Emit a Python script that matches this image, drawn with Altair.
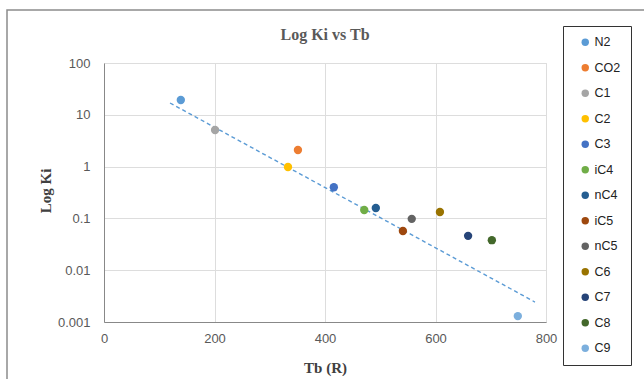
import altair as alt
import pandas as pd

components = ["N2", "CO2", "C1", "C2", "C3", "iC4", "nC4", "iC5", "nC5", "C6", "C7", "C8", "C9"]
tb = [139, 351, 201, 333, 416, 471, 492, 541, 557, 608, 659, 702, 749]
ki = [19.3, 2.09, 5.1, 0.98, 0.40, 0.145, 0.159, 0.057, 0.098, 0.133, 0.046, 0.038, 0.0013]
colors = ["#5B9BD5", "#ED7D31", "#A5A5A5", "#FFC000", "#4472C4", "#70AD47", "#255E91",
          "#9E480E", "#636363", "#997300", "#264478", "#43682B", "#7CAFDD"]

trend_tb = [119.5, 780]
trend_ki = [16.9, 0.00243]

x_ticks = [0, 200, 400, 600, 800]
y_ticks = [0.001, 0.01, 0.1, 1, 10, 100]

df = pd.DataFrame({"Component": components, "Tb": tb, "Ki": ki})
trend = pd.DataFrame({"Tb": trend_tb, "Ki": trend_ki})

W, H = 442, 259
LEFT, TOP = 104, 63
SERIF = "Liberation Serif"
SANS = "Liberation Sans"

xscale = alt.Scale(domain=[0, 800], nice=False)
yscale = alt.Scale(type="log", domain=[0.001, 100], nice=False)

xaxis = alt.Axis(values=x_ticks, title="Tb  (R)", grid=True, ticks=False, labelFlush=False,
                 labelFont=SANS, labelFontSize=13, labelColor="#595959",
                 labelPadding=10, titleY=45, titleBaseline="middle",
                 titleFont=SERIF, titleFontSize=15, titleFontWeight="bold", titleColor="#404040")
yaxis = alt.Axis(values=y_ticks, title="Log Ki", grid=True, ticks=False, format="~g",
                 labelFont=SANS, labelFontSize=13, labelColor="#595959",
                 labelFlush=False, labelPadding=14, titleX=-59, titleY=H / 2 - 2,
                 titleBaseline="middle",
                 titleFont=SERIF, titleFontSize=15, titleFontWeight="bold", titleColor="#404040")

frame = alt.Chart(pd.DataFrame({"a": [0]})).mark_rect(
    fill=None, stroke="#8c8c8c", strokeWidth=1.5
).encode(
    x=alt.value(7 - LEFT), y=alt.value(10 - TOP),
    x2=alt.value(660 - LEFT), y2=alt.value(395 - TOP)
)

line = alt.Chart(trend).mark_line(
    color="#5B9BD5", strokeDash=[4, 3], strokeWidth=1.4
).encode(
    x=alt.X("Tb:Q", scale=xscale, axis=xaxis),
    y=alt.Y("Ki:Q", scale=yscale, axis=yaxis),
)

points = alt.Chart(df).mark_circle(size=70, opacity=1).encode(
    x=alt.X("Tb:Q", scale=xscale, axis=xaxis),
    y=alt.Y("Ki:Q", scale=yscale, axis=yaxis),
    color=alt.Color("Component:N", sort=components,
                    scale=alt.Scale(domain=components, range=colors),
                    legend=alt.Legend(title=None, orient="none", legendX=459, legendY=-37,
                                      symbolType="circle", symbolSize=55,
                                      labelFontSize=12.5, labelFont=SANS,
                                      labelColor="#222222", rowPadding=12.5,
                                      padding=10, symbolOffset=6, labelOffset=3,
                                      strokeColor="#333333",
                                      fillColor="white")),
)

chart = alt.layer(frame, line, points).properties(
    width=W, height=H,
    title=alt.TitleParams("Log Ki vs Tb", font=SERIF, fontSize=16,
                          fontWeight="bold", color="#595959", anchor="middle",
                          frame="group", offset=0, dy=34),
    padding={"left": LEFT, "top": TOP, "right": 644 - LEFT - W, "bottom": 379 - TOP - H},
    autosize=alt.AutoSizeParams(type="none"),
).configure_view(stroke=None).configure_axis(
    gridColor="#d9d9d9", domainColor="#d9d9d9",
).configure_legend(strokeWidth=1.5).configure(background="white")

chart.save("out.html", embed_options={"renderer": "svg", "actions": False})
